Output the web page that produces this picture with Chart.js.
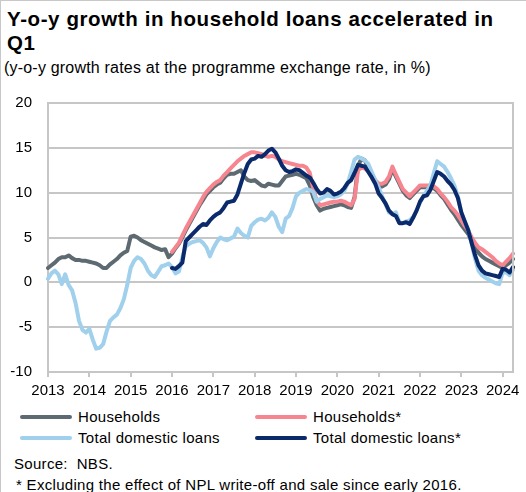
<!DOCTYPE html>
<html>
<head>
<meta charset="utf-8">
<script src="https://cdn.jsdelivr.net/npm/chart.js@4/dist/chart.umd.min.js"></script>
<style>
  html, body { margin: 0; padding: 0; background: #fff; }
  body { width: 526px; height: 492px; position: relative; overflow: hidden;
         font-family: "Liberation Sans", Arial, sans-serif; color: #000; }
  #frame { position: absolute; left: 0; top: 0; width: 526px; height: 492px; box-sizing: border-box;
           border-left: 1px solid #c8c8c8; border-top: 1px solid #c8c8c8; pointer-events: none; }
  #title { position: absolute; left: 7px; top: 7px; font-weight: bold; font-size: 20.5px;
           line-height: 24px; letter-spacing: 0.6px; white-space: nowrap; }
  #subtitle { position: absolute; left: 4px; top: 58px; font-size: 16px; line-height: 20px;
              letter-spacing: 0.2px; white-space: nowrap; }
  #wrap { position: absolute; left: 0; top: 0; width: 526px; height: 400px; }
  #legend { position: absolute; left: 20px; top: 406px; display: grid;
            grid-template-columns: 235px 235px; grid-auto-rows: 21px; }
  .item { display: flex; align-items: center; font-size: 15px; letter-spacing: 0.3px; white-space: nowrap; }
  .swatch { width: 52px; height: 4px; border-radius: 2px; margin-right: 6px; flex: none; }
  .note { position: absolute; left: 14px; font-size: 15px; line-height: 20px; letter-spacing: 0.3px;
          white-space: nowrap; }
</style>
</head>
<body>
<div id="title">Y-o-y growth in household loans accelerated in<br>Q1</div>
<div id="subtitle">(y-o-y growth rates at the programme exchange rate, in %)</div>
<div id="wrap"><canvas id="c" width="526" height="400"></canvas></div>
<div id="legend"></div>
<div class="note" style="top:454px;">Source:&nbsp; NBS.</div>
<div class="note" style="top:475px; left:16px;">* Excluding the effect of NPL write-off and sale since early 2016.</div>
<div id="frame"></div>
<script>
// Monthly observations, January 2013 to April 2024
const years = [2013, 2014, 2015, 2016, 2017, 2018, 2019, 2020, 2021, 2022, 2023, 2024];
const monthsIn2024 = 4;

// Y-o-y growth of household loans, %
const households = [
  1.6, 1.9, 2.2, 2.6, 2.8, 2.8, 3.0, 2.7, 2.5, 2.5, 2.4, 2.4,
  2.3, 2.2, 2.1, 1.9, 1.6, 1.6, 2.0, 2.3, 2.6, 3.0, 3.3, 3.5,
  5.1, 5.2, 5.0, 4.7, 4.5, 4.3, 4.1, 3.9, 3.75, 3.6, 3.7, 2.8,
  3.2, 3.8, 4.3, 5.0, 5.8, 6.5, 7.2, 7.9, 8.6, 9.2, 9.8, 10.2,
  10.6, 10.9, 11.1, 11.6, 12.0, 12.1, 12.1, 12.3, 12.5, 11.8, 11.4, 11.3,
  11.4, 11.1, 10.8, 10.7, 11.0, 10.9, 10.8, 10.8, 11.3, 11.8, 11.9, 12.0,
  12.1, 12.0, 11.8, 11.6, 10.8, 9.5, 8.6, 8.0, 8.2, 8.3, 8.4, 8.5,
  8.6, 8.7, 8.6, 8.4, 8.3, 9.5, 13.0, 13.8, 13.6, 12.6, 12.0, 11.2,
  10.7, 10.7, 10.9, 11.5, 12.6, 11.8, 11.0, 10.2, 9.7, 9.4, 9.8, 10.2,
  10.6, 10.6, 10.6, 10.6, 10.5, 10.2, 9.7, 9.3, 8.7, 8.1, 7.6, 7.0,
  6.4, 5.9, 5.4, 4.6, 3.9, 3.3, 2.9, 2.6, 2.4, 2.2, 2.0, 1.8,
  1.6, 1.9, 2.2, 2.6
];

// Households excluding NPL write-offs and sales, from January 2016
const householdsAdj = [
  3.4, 3.9, 4.4, 5.2, 6.0, 6.7, 7.4, 8.1, 8.8, 9.5, 10.1, 10.5,
  10.9, 11.2, 11.4, 11.9, 12.3, 12.7, 13.1, 13.5, 13.8, 14.1, 14.3, 14.5,
  14.5, 14.4, 14.3, 14.1, 14.0, 14.1, 14.0, 13.7, 13.5, 13.4, 13.3, 13.2,
  13.1, 13.0, 13.0, 12.8, 12.2, 10.5, 9.1, 8.6, 8.7, 8.8, 8.9, 9.0,
  9.0, 9.1, 9.0, 8.8, 8.6, 9.3, 12.5, 12.8, 12.7, 12.4, 12.0, 11.4,
  11.0, 11.0, 11.2, 11.8, 12.9, 12.0, 11.2, 10.4, 10.0, 9.6, 10.0, 10.4,
  10.8, 10.8, 10.8, 10.8, 10.7, 10.4, 9.9, 9.5, 9.0, 8.4, 8.0, 7.5,
  6.9, 6.3, 5.8, 5.0, 4.4, 3.9, 3.7, 3.4, 3.1, 2.8, 2.4, 2.1,
  1.9, 2.3, 2.7, 3.2
];

// Y-o-y growth of total domestic loans, %
const totalLoans = [
  0.4, 1.0, 1.3, 0.9, -0.2, 0.9, -0.3, -0.9, -2.3, -4.3, -5.3, -5.6,
  -5.2, -6.4, -7.4, -7.3, -6.9, -5.5, -4.3, -3.9, -3.6, -2.9, -1.9, -0.3,
  1.6, 2.4, 2.8, 2.6, 2.1, 1.3, 0.8, 0.6, 1.2, 1.8, 1.9, 2.1,
  1.7, 1.0, 1.2, 2.8, 4.0, 4.3, 4.5, 4.6, 4.7, 4.4, 3.9, 2.9,
  3.8, 4.5, 5.0, 4.8, 4.7, 4.9, 5.1, 6.0, 5.5, 5.2, 5.0, 6.3,
  6.7, 7.0, 7.1, 6.9, 7.2, 7.8, 7.3, 6.2, 5.6, 7.1, 7.4, 8.3,
  9.6, 10.0, 10.2, 10.4, 10.3, 10.1, 9.0, 9.3, 9.5, 9.7, 9.6, 9.5,
  9.6, 9.8, 10.2, 11.0, 12.3, 13.7, 14.0, 13.8, 13.6, 13.2, 12.3, 11.4,
  10.6, 9.6, 8.7, 7.8, 7.6, 7.8, 6.7, 6.6, 6.8, 6.9, 7.3, 8.0,
  8.9, 9.6, 10.2, 10.8, 12.2, 13.5, 13.2, 12.9, 12.3, 11.6, 10.8, 9.6,
  7.8, 6.8, 5.9, 4.3, 2.6, 1.3, 0.8, 0.5, 0.3, 0.1, -0.1, -0.2,
  1.1, 1.1, 0.8, 1.4
];

// Total domestic loans excluding NPL write-offs and sales, from January 2016
const totalLoansAdj = [
  1.6, 1.5, 1.8, 2.2, 4.6, 5.0, 5.4, 5.8, 6.2, 6.5, 6.4, 6.9,
  7.3, 7.6, 7.8, 8.3, 8.9, 9.0, 9.1, 9.8, 11.0, 12.2, 13.2, 13.7,
  13.8, 14.1, 14.0, 14.3, 14.7, 14.9, 14.5, 13.8, 13.0, 12.5, 12.3, 12.4,
  12.6, 12.5, 12.2, 11.9, 11.7, 11.1, 10.4, 9.9, 10.0, 10.4, 10.2, 9.8,
  9.9, 10.1, 10.5, 11.1, 11.4, 12.2, 13.1, 13.0, 12.9, 12.3, 11.7, 11.0,
  9.9, 9.4, 8.8, 8.0, 7.6, 7.4, 6.6, 6.6, 6.7, 6.5, 7.2, 8.0,
  9.0, 9.6, 9.7, 10.3, 11.3, 12.3, 12.1, 11.8, 11.3, 10.9, 10.3, 9.4,
  7.8, 6.8, 5.8, 4.4, 3.0, 1.9, 1.3, 1.0, 0.9, 0.8, 0.7, 0.6,
  1.5, 1.4, 1.1, 1.7
];

const yTicks = { min: -10, max: 20, step: 5 };

// Month labels "YYYY-MM"
const months = [];
years.forEach(function (y) {
  const n = (y === years[years.length - 1]) ? monthsIn2024 : 12;
  for (let m = 1; m <= n; m++) months.push(y + '-' + String(m).padStart(2, '0'));
});

// Adjusted series start in 2016; earlier months are blank
function fromStart(series) {
  return new Array(months.length - series.length).fill(null).concat(series);
}

const series = [
  { label: 'Households', data: households, color: '#5e6a71' },
  { label: 'Households*', data: fromStart(householdsAdj), color: '#f7858f' },
  { label: 'Total domestic loans', data: totalLoans, color: '#a0d0ec' },
  { label: 'Total domestic loans*', data: fromStart(totalLoansAdj), color: '#0b2a6c' }
];

const GRID = '#c6c6c6';

// Right-hand frame of the plot area
const plotFrame = {
  id: 'plotFrame',
  afterDraw(chart) {
    const a = chart.chartArea, ctx = chart.ctx;
    ctx.save();
    ctx.strokeStyle = GRID;
    ctx.lineWidth = 2;
    ctx.beginPath();
    ctx.moveTo(a.right, a.top - 1);
    ctx.lineTo(a.right, a.bottom + 1);
    ctx.stroke();
    ctx.restore();
  }
};

const chart = new Chart(document.getElementById('c'), {
  type: 'line',
  data: {
    labels: months,
    datasets: series.map(function (s, i) {
      return {
        label: s.label,
        data: s.data,
        borderColor: s.color,
        backgroundColor: s.color,
        borderWidth: 4,
        pointRadius: 0,
        tension: 0,
        borderJoinStyle: 'round',
        borderCapStyle: 'round',
        spanGaps: false,
        order: series.length - i
      };
    })
  },
  options: {
    responsive: false,
    animation: false,
    devicePixelRatio: 1,
    layout: { padding: { top: 103, right: 13, left: 0, bottom: 0 } },
    plugins: { legend: { display: false }, tooltip: { enabled: false } },
    scales: {
      x: {
        type: 'category',
        offset: false,
        afterFit: function (scale) { scale.height = 28; },
        grid: { drawOnChartArea: false, drawTicks: true, tickLength: 5, color: GRID, lineWidth: 2 },
        border: { display: false },
        ticks: {
          autoSkip: false, maxRotation: 0, minRotation: 0, padding: 5,
          color: '#000', font: { family: '"Liberation Sans", Arial, sans-serif', size: 15 },
          callback: function (value) {
            const lab = this.getLabelForValue(value);
            return lab.endsWith('-01') ? lab.slice(0, 4) : null;
          }
        }
      },
      y: {
        min: yTicks.min, max: yTicks.max,
        afterFit: function (scale) { scale.width = 48; },
        grid: { color: GRID, lineWidth: 2, drawTicks: false },
        border: { display: true, color: GRID, width: 2 },
        ticks: {
          stepSize: yTicks.step, padding: 16, color: '#000',
          font: { family: '"Liberation Sans", Arial, sans-serif', size: 15 }
        }
      }
    }
  },
  plugins: [plotFrame]
});

// Two-column legend built from the datasets
const legend = document.getElementById('legend');
chart.data.datasets.forEach(function (ds) {
  const item = document.createElement('div');
  item.className = 'item';
  const sw = document.createElement('span');
  sw.className = 'swatch';
  sw.style.background = ds.borderColor;
  const tx = document.createElement('span');
  tx.textContent = ds.label;
  item.appendChild(sw);
  item.appendChild(tx);
  legend.appendChild(item);
});
</script>
</body>
</html>
